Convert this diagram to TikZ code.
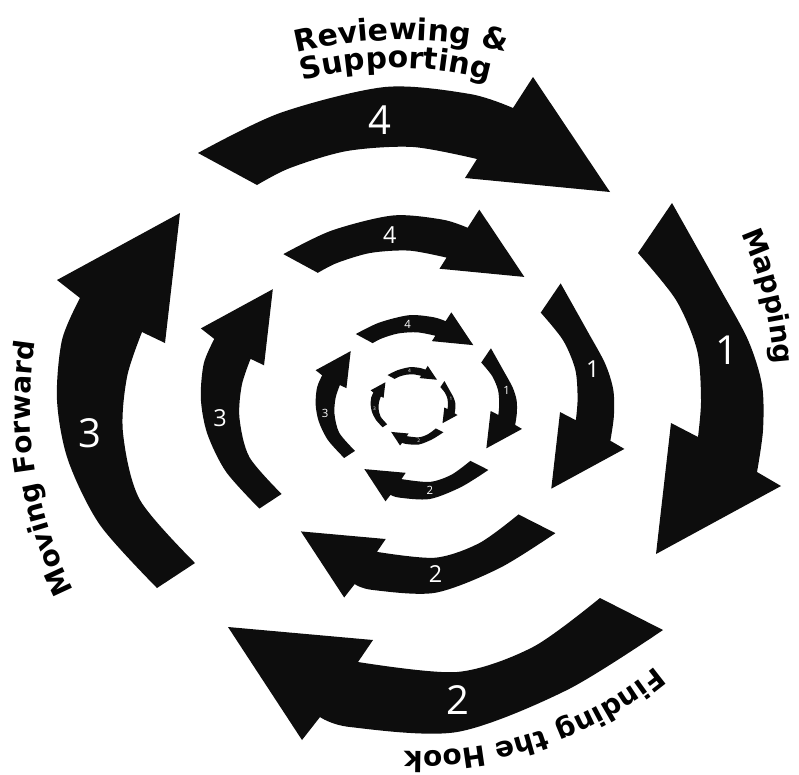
\documentclass[tikz,border=0pt]{standalone}
\usepackage{fontspec}
\setmainfont{DejaVu Sans}
\newfontfamily\numfont{Open Sans}
\usetikzlibrary{decorations.text}
\newcommand\lblfont{\fontsize{30}{30}\selectfont\bfseries}
\newcommand\sidefont{\fontsize{28}{28}\selectfont\bfseries}
\tikzset{
  arrowfill/.style={fill=black!95},
  num/.style={text=white, font=\numfont\fontsize{40}{40}\selectfont, inner sep=0pt, transform shape},
  curvedlabel/.style={decorate, decoration={text along path, text align=center, text={|\lblfont|#1}}},
  sidelabel/.style={decorate, decoration={text along path, text align=center, text={|\sidefont|#1}}}
}
\newcommand\ringarrows[1]{%
  % arrow 4 (top)
  \fill[arrowfill] plot[smooth] coordinates {(198,153) (280,113) (385,87) (470,94) (513,108)}
    -- (533,77) -- (610,192) -- (465,178) -- (477,159)
    -- plot[smooth] coordinates {(477,159) (413,147) (347,151) (290,168) (257,185)} -- cycle;
  % arrow 1 (right)
  \fill[arrowfill] plot[smooth] coordinates {(672,203) (718,285) (748,340) (762,385) (763,430) (757,472)}
    -- (781,486) -- (656,554) -- (671,423) -- (698,437)
    -- plot[smooth] coordinates {(698,437) (701,400) (697,350) (676,300) (638,253)} -- cycle;
  % arrow 2 (bottom)
  \fill[arrowfill] plot[smooth] coordinates {(663,630) (567,690) (457,732) (350,727) (320,717)}
    -- (302,740) -- (228,627) -- (373,640) -- (358,662)
    -- plot[smooth] coordinates {(358,662) (457,672) (533,647) (600,598)} -- cycle;
  % arrow 3 (left)
  \fill[arrowfill] plot[smooth] coordinates {(157,588) (100,525) (68,460) (57,400) (62,340) (80,298)}
    -- (57,280) -- (180,213) -- (165,343) -- (142,332)
    -- plot[smooth] coordinates {(142,332) (127,377) (123,433) (140,500) (195,563)} -- cycle;
  \node[num] (#1four) at (380,120) {4};
  \node[num] (#1one) at (727,350) {1};
  \node[num] (#1two) at (458,700) {2};
  \node[num] (#1three) at (90,433) {3};
}
\begin{document}
\begin{tikzpicture}[x=1pt,y=-1pt]
\useasboundingbox (0,0) rectangle (799,774);
\fill[white] (0,0) rectangle (799,774);
% ring A
\ringarrows{a}
% ring B
\begin{scope}[shift={(167.5,164.6)}, scale=0.585]
\ringarrows{b}
\end{scope}
% ring C
\begin{scope}[shift={(299.4,290.4)}, scale=0.285]
\ringarrows{c}
\end{scope}
% ring D
\begin{scope}[shift={(363.8,356.7)}, scale=0.12]
\ringarrows{d}
\end{scope}
% labels
\path[curvedlabel={Reviewing {\&}}] (401,490) ++(240:450) arc[start angle=240, end angle=300, radius=450];
\path[curvedlabel={Supporting}] (396,420) ++(235:352) arc[start angle=235, end angle=305, radius=352];
\path[sidelabel={Mapping}] (390,390) ++(-43.9:385) arc[start angle=-43.9, end angle=16.1, radius=385];
\path[sidelabel={Finding the Hook}] (420,380) ++(31.5:371) arc[start angle=31.5, end angle=111.5, radius=371];
\path[sidelabel={Moving Forward}] (440,405) ++(141:410) arc[start angle=141, end angle=201, radius=410];
\end{tikzpicture}
\end{document}
